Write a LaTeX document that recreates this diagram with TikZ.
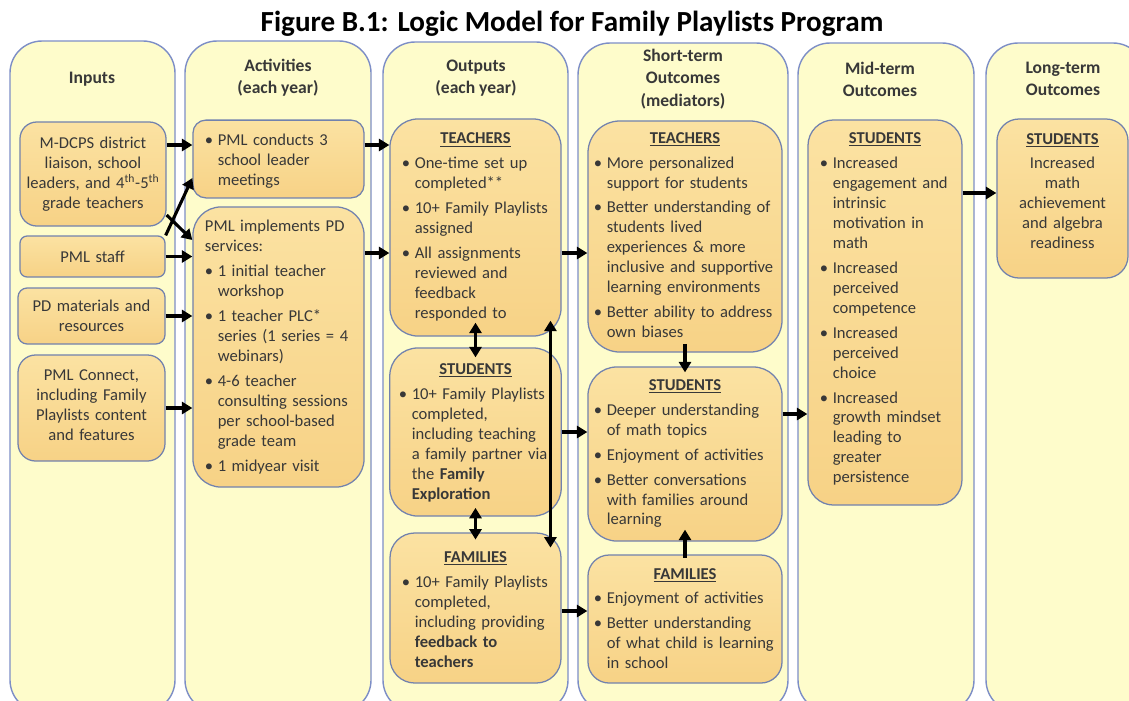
\documentclass[tikz,border=0pt]{standalone}
\usepackage{fontspec}
\setmainfont{Carlito}
\usetikzlibrary{arrows.meta}

\definecolor{colfill}{HTML}{FEFCCB}
\definecolor{colline}{HTML}{7D8EC6}
\definecolor{boxtop}{HTML}{FBE2A2}
\definecolor{boxbot}{HTML}{F7D286}
\definecolor{boxline}{HTML}{7282AE}
\definecolor{ink}{HTML}{383838}

\hyphenpenalty=10000
% underlined group name on top of a box
\newcommand{\hdr}[1]{\par\centerline{\underline{\textbf{#1}}}\par}
% one bullet point with hanging indent
\newcommand{\bul}[1]{\par\vspace{0.125cm}\noindent\hangindent=0.42cm\hangafter=1\makebox[0.42cm][l]{\hspace{0.1cm}\textbullet}#1\par}
% extra room under the last line
\newcommand{\tail}[1]{\par\vspace{#1}}

\begin{document}
\begin{tikzpicture}[x=0.025cm, y=-0.025cm,
    column/.style={draw=colline, line width=1pt, fill=colfill, rounded corners=0.8cm},
    head/.style={font=\fontsize{12.5}{15.8}\selectfont\bfseries, text=ink, align=center},
    box/.style={draw=boxline, line width=0.9pt, top color=boxtop, bottom color=boxbot,
        text=ink, font=\fontsize{11.8}{14.2}\selectfont, inner xsep=0.2cm, inner ysep=0pt, align=left},
    flow/.style={line width=2.2pt, -{Triangle[length=0.26cm,width=0.3cm]}},
    both/.style={line width=2.2pt, {Triangle[length=0.26cm,width=0.3cm]}-{Triangle[length=0.26cm,width=0.3cm]}}]
    \useasboundingbox (0,0) rectangle (1129,700);

    \node[font=\fontsize{20.7}{24}\selectfont\bfseries] (title) at (572,24) {Figure B.1: Logic Model for Family Playlists Program};

    % the six columns
    \draw[column] (10,41) rectangle (175,712);
    \draw[column] (185,41) rectangle (371,712);
    \draw[column] (383,42) rectangle (568,712);
    \draw[column] (578,43) rectangle (788,712);
    \draw[column] (798,43) rectangle (974,712);
    \draw[column] (986,43) rectangle (1145,712);

    \node[head] (h-in) at (92,79) {Inputs};
    \node[head] (h-act) at (278,78) {Activities\\(each year)};
    \node[head] (h-out) at (476,78) {Outputs\\(each year)};
    \node[head] (h-st) at (683,79) {Short-term\\Outcomes\\(mediators)};
    \node[head] (h-mid) at (880,79) {Mid-term\\Outcomes};
    \node[head] (h-long) at (1063,79) {Long-term\\Outcomes};

    % inputs
    \node[box, align=center, inner xsep=0.1cm, text width=3.45cm, minimum height=2.6cm, rounded corners=0.42cm] (in-mdcps) at (93,174)
        {M-DCPS district\\liaison, school\\leaders, and 4\textsuperscript{th}-5\textsuperscript{th}\\grade teachers};
    \node[box, align=center, inner xsep=0.1cm, text width=3.425cm, minimum height=1.025cm, rounded corners=0.18cm] (in-staff) at (92.5,256.5) {PML staff};
    \node[box, align=center, inner xsep=0.1cm, text width=3.475cm, minimum height=1.4cm, rounded corners=0.23cm] (in-pd) at (91.5,316)
        {PD materials and\\resources};
    \node[box, align=center, inner xsep=0.1cm, text width=3.475cm, minimum height=2.65cm, rounded corners=0.44cm] (in-connect) at (91.5,408)
        {PML Connect,\\including Family\\Playlists content\\and features\tail{0.15cm}};

    % activities
    \node[box, text width=3.875cm, minimum height=1.9cm, rounded corners=0.32cm] (act-meet) at (278.5,159)
        {\bul{PML conducts 3\newline school leader\newline meetings}\tail{0.25cm}};
    \node[box, text width=3.875cm, minimum height=7cm, rounded corners=0.7cm] (act-pd) at (278.5,347)
        {\hangindent=0.1cm\hangafter=0 PML implements PD\newline services:
        \bul{1 initial teacher\newline workshop}
        \bul{1 teacher PLC*\newline series (1 series = 4\newline webinars)}
        \bul{4-6 teacher\newline consulting sessions\newline per school-based\newline grade team}
        \bul{1 midyear visit}};

    % outputs
    \node[box, text width=3.875cm, minimum height=5.425cm, rounded corners=0.7cm] (out-t) at (475.5,227.5)
        {\hdr{TEACHERS}
        \bul{One-time set up\newline completed**}
        \bul{10+ Family Playlists\newline assigned}
        \bul{All assignments\newline reviewed and\newline feedback\newline responded to}\tail{0.25cm}};
    \node[box, inner xsep=0.13cm, text width=4.025cm, minimum height=4.2cm, rounded corners=0.7cm] (out-s) at (475.5,432)
        {\hdr{STUDENTS}
        \bul{10+ Family Playlists\newline completed,\newline including teaching\newline a family partner via\newline the \textbf{Family}\newline \textbf{Exploration}}\tail{0.2cm}};
    \node[box, text width=3.875cm, minimum height=3.75cm, rounded corners=0.62cm] (out-f) at (475.5,608)
        {\hdr{FAMILIES}
        \bul{10+ Family Playlists\newline completed,\newline including providing\newline \textbf{feedback to}\newline \textbf{teachers}}\tail{0.15cm}};

    % short-term outcomes
    \node[box, inner xsep=0.05cm, text width=4.75cm, minimum height=5.775cm, rounded corners=0.8cm] (st-t) at (685,236.5)
        {\hdr{TEACHERS}
        \bul{More personalized\newline support for students}
        \bul{Better understanding of\newline students lived\newline experiences \& more\newline inclusive and supportive\newline learning environments}
        \bul{Better ability to address\newline own biases}\tail{0.3cm}};
    \node[box, inner xsep=0.05cm, text width=4.75cm, minimum height=4.35cm, rounded corners=0.72cm] (st-s) at (685,454)
        {\hdr{STUDENTS}
        \bul{Deeper understanding\newline of math topics}
        \bul{Enjoyment of activities}
        \bul{Better conversations\newline with families around\newline learning}\tail{0.25cm}};
    \node[box, inner xsep=0.05cm, text width=4.75cm, minimum height=3.2cm, rounded corners=0.53cm] (st-f) at (685,619)
        {\hdr{FAMILIES}
        \bul{Enjoyment of activities}
        \bul{Better understanding\newline of what child is learning\newline in school}\tail{0.25cm}};

    % mid-term and long-term outcomes
    \node[box, text width=3.45cm, minimum height=9.625cm, rounded corners=0.64cm] (mid-s) at (885,312.5)
        {\hdr{STUDENTS}
        \bul{Increased\newline engagement and\newline intrinsic\newline motivation in\newline math}
        \bul{Increased\newline perceived\newline competence}
        \bul{Increased\newline perceived\newline choice}
        \bul{Increased\newline growth mindset\newline leading to\newline greater\newline persistence}\tail{0.4cm}};
    \node[box, inner xsep=0.1cm, text width=3.075cm, minimum height=3.975cm, rounded corners=0.55cm] (long-s) at (1062.5,198.5)
        {\hdr{STUDENTS}\vspace{0.125cm}
        {\centering Increased\\math\\achievement\\and algebra\\readiness\par}\tail{0.6cm}};

    % connectors
    \draw[flow] (in-mdcps.east |- 0,145) -- (act-meet.west |- 0,145);
    \draw[flow] (in-staff.north east) -- (act-meet.west |- 0,178);
    \draw[flow] (in-mdcps.east |- 0,215) -- (act-pd.west |- 0,240);
    \draw[flow] (in-staff.east) -- (in-staff.east -| act-pd.west);
    \draw[flow] (in-pd.east) -- (in-pd.east -| act-pd.west);
    \draw[flow] (in-connect.east) -- (in-connect.east -| act-pd.west);
    \draw[flow] (act-meet.east |- 0,145) -- (out-t.west |- 0,145);
    \draw[flow] (act-pd.east |- 0,253) -- (out-t.west |- 0,253);
    \draw[both, shorten <=-0.35cm, shorten >=-0.25cm] (out-t.south) -- (out-s.north);
    \draw[both, shorten <=-0.22cm, shorten >=-0.18cm] (out-s.south) -- (out-f.north);
    \draw[both] ([xshift=-0.28cm,yshift=0.4cm]out-t.south east) -- ([xshift=-0.28cm,yshift=-0.38cm]out-f.north east);
    \draw[flow] (out-t.east |- 0,253) -- (st-t.west |- 0,253);
    \draw[flow] (out-s.east) -- (out-s.east -| st-s.west);
    \draw[flow] (out-f.east |- 0,611) -- (st-f.west |- 0,611);
    \draw[flow, shorten <=-0.22cm, shorten >=-0.15cm] (st-t.south) -- (st-s.north);
    \draw[flow, shorten <=-0.08cm, shorten >=-0.3cm] (st-f.north) -- (st-s.south);
    \draw[flow] (st-s.east |- 0,414) -- (mid-s.west |- 0,414);
    \draw[flow] (mid-s.east |- 0,193) -- (long-s.west |- 0,193);
\end{tikzpicture}
\end{document}
